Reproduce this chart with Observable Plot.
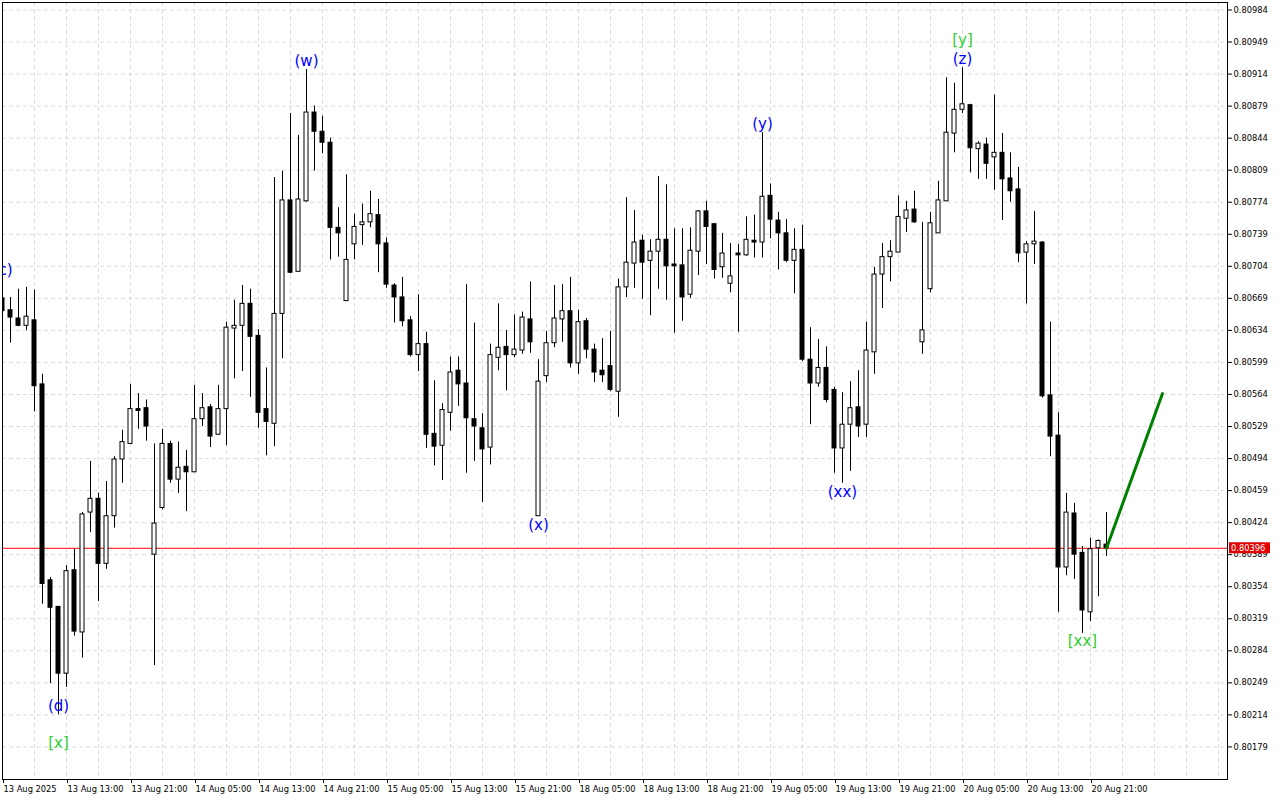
<!DOCTYPE html>
<html><head><meta charset="utf-8">
<script src="https://cdn.jsdelivr.net/npm/d3@7"></script>
<script src="https://cdn.jsdelivr.net/npm/@observablehq/plot@0.6"></script>
<style>html,body{margin:0;padding:0;background:#fff;overflow:hidden}#chart svg{display:block}</style>
</head><body><div id="chart"></div>
<script>
// Hourly bars, index 0 = 13 Aug 05:00 (weekend skipped)
const open = [
0.80669,0.80656,0.80647,0.80639,0.80645,0.80575,0.80361,0.80332,0.80259,0.80372,
0.80304,0.80435,0.80450,0.80379,0.80431,0.80493,0.80510,0.80548,0.80549,0.80389,
0.80440,0.80510,0.80471,0.80485,0.80479,0.80537,0.80550,0.80520,0.80548,0.80636,
0.80639,0.80663,0.80628,0.80548,0.80532,0.80652,0.80776,0.80698,0.80775,0.80872,
0.80851,0.80839,0.80746,0.80666,0.80728,0.80749,0.80752,0.80760,0.80729,0.80683,
0.80670,0.80645,0.80607,0.80619,0.80521,0.80508,0.80544,0.80590,0.80576,0.80537,
0.80527,0.80506,0.80604,0.80616,0.80607,0.80612,0.80646,0.80431,0.80584,0.80620,
0.80646,0.80655,0.80598,0.80644,0.80613,0.80590,0.80595,0.80567,0.80681,0.80707,
0.80732,0.80710,0.80720,0.80733,0.80706,0.80705,0.80673,0.80720,0.80764,0.80750,
0.80703,0.80685,0.80718,0.80716,0.80732,0.80730,0.80781,0.80754,0.80740,0.80710,
0.80722,0.80602,0.80576,0.80593,0.80569,0.80505,0.80531,0.80550,0.80531,0.80610,
0.80695,0.80714,0.80719,0.80756,0.80766,0.80621,0.80679,0.80740,0.80775,0.80849,
0.80875,0.80880,0.80832,0.80837,0.80823,0.80828,0.80800,0.80788,0.80719,0.80728,
0.80730,0.80563,0.80519,0.80375,0.80434,0.80391,0.80326,0.80396,0.80400];
const high = [
0.80675,0.80670,0.80679,0.80681,0.80678,0.80586,0.80364,0.80332,0.80377,0.80395,
0.80435,0.80491,0.80456,0.80469,0.80496,0.80525,0.80575,0.80565,0.80558,0.80510,
0.80526,0.80513,0.80512,0.80503,0.80574,0.80565,0.80553,0.80574,0.80643,0.80667,
0.80683,0.80679,0.80635,0.80593,0.80801,0.80808,0.80871,0.80847,0.80919,0.80879,
0.80868,0.80844,0.80768,0.80804,0.80761,0.80772,0.80786,0.80777,0.80735,0.80685,
0.80692,0.80649,0.80673,0.80632,0.80579,0.80554,0.80605,0.80605,0.80684,0.80642,
0.80543,0.80619,0.80663,0.80634,0.80651,0.80654,0.80687,0.80602,0.80633,0.80683,
0.80684,0.80692,0.80656,0.80647,0.80619,0.80625,0.80633,0.80690,0.80779,0.80765,
0.80738,0.80733,0.80802,0.80793,0.80745,0.80745,0.80746,0.80765,0.80775,0.80750,
0.80740,0.80729,0.80728,0.80758,0.80760,0.80850,0.80794,0.80763,0.80755,0.80745,
0.80749,0.80637,0.80624,0.80616,0.80572,0.80566,0.80578,0.80590,0.80643,0.80703,
0.80729,0.80732,0.80781,0.80775,0.80786,0.80752,0.80763,0.80797,0.80910,0.80904,
0.80921,0.80881,0.80840,0.80844,0.80891,0.80849,0.80828,0.80812,0.80731,0.80764,
0.80731,0.80643,0.80544,0.80456,0.80445,0.80398,0.80407,0.80405,0.80435];
const low = [
0.80647,0.80620,0.80638,0.80634,0.80545,0.80335,0.80248,0.80214,0.80244,0.80300,
0.80276,0.80413,0.80338,0.80373,0.80418,0.80467,0.80510,0.80526,0.80513,0.80268,
0.80438,0.80467,0.80456,0.80436,0.80479,0.80529,0.80506,0.80520,0.80508,0.80581,
0.80589,0.80561,0.80527,0.80497,0.80507,0.80603,0.80696,0.80698,0.80774,0.80808,
0.80827,0.80711,0.80714,0.80666,0.80711,0.80727,0.80746,0.80697,0.80680,0.80642,
0.80638,0.80605,0.80589,0.80505,0.80486,0.80470,0.80524,0.80551,0.80478,0.80491,
0.80446,0.80487,0.80590,0.80568,0.80604,0.80608,0.80609,0.80431,0.80577,0.80615,
0.80621,0.80593,0.80586,0.80603,0.80577,0.80577,0.80567,0.80539,0.80670,0.80680,
0.80668,0.80650,0.80679,0.80667,0.80631,0.80644,0.80669,0.80694,0.80706,0.80690,
0.80691,0.80675,0.80632,0.80715,0.80713,0.80713,0.80734,0.80700,0.80708,0.80674,
0.80600,0.80531,0.80572,0.80555,0.80478,0.80467,0.80480,0.80517,0.80517,0.80586,
0.80658,0.80687,0.80719,0.80741,0.80751,0.80608,0.80675,0.80740,0.80775,0.80828,
0.80871,0.80806,0.80799,0.80799,0.80787,0.80754,0.80774,0.80708,0.80663,0.80706,
0.80560,0.80496,0.80326,0.80366,0.80362,0.80303,0.80316,0.80343,0.80387];
const close = [
0.80655,0.80648,0.80639,0.80649,0.80573,0.80357,0.80331,0.80259,0.80371,0.80305,
0.80433,0.80450,0.80379,0.80431,0.80493,0.80512,0.80548,0.80546,0.80529,0.80423,
0.80510,0.80471,0.80484,0.80479,0.80537,0.80549,0.80518,0.80548,0.80637,0.80639,
0.80663,0.80627,0.80544,0.80534,0.80652,0.80776,0.80697,0.80777,0.80872,0.80851,
0.80839,0.80746,0.80740,0.80711,0.80747,0.80752,0.80761,0.80728,0.80684,0.80670,
0.80644,0.80607,0.80619,0.80520,0.80507,0.80547,0.80588,0.80575,0.80538,0.80529,
0.80504,0.80607,0.80615,0.80607,0.80613,0.80648,0.80621,0.80578,0.80620,0.80647,
0.80655,0.80598,0.80643,0.80613,0.80588,0.80585,0.80569,0.80681,0.80708,0.80730,
0.80708,0.80720,0.80733,0.80704,0.80704,0.80670,0.80721,0.80764,0.80747,0.80700,
0.80718,0.80693,0.80716,0.80733,0.80730,0.80780,0.80755,0.80740,0.80710,0.80722,
0.80602,0.80576,0.80593,0.80558,0.80505,0.80531,0.80549,0.80529,0.80612,0.80695,
0.80714,0.80720,0.80758,0.80765,0.80752,0.80634,0.80751,0.80776,0.80850,0.80875,
0.80881,0.80833,0.80838,0.80816,0.80828,0.80799,0.80786,0.80718,0.80728,0.80731,
0.80562,0.80518,0.80375,0.80435,0.80389,0.80328,0.80395,0.80404,0.80396];

const timeTickBars = [0,8,16,24,32,40,48,56,64,72,80,88,96,104,112,120,128,136];
const timeLabels = ["13 Aug 2025","13 Aug 13:00","13 Aug 21:00","14 Aug 05:00","14 Aug 13:00","14 Aug 21:00",
  "15 Aug 05:00","15 Aug 13:00","15 Aug 21:00","18 Aug 05:00","18 Aug 13:00","18 Aug 21:00",
  "19 Aug 05:00","19 Aug 13:00","19 Aug 21:00","20 Aug 05:00","20 Aug 13:00","20 Aug 21:00"];
const priceTicks = [0.80179,0.80214,0.80249,0.80284,0.80319,0.80354,0.80389,0.80424,0.80459,0.80494,
  0.80529,0.80564,0.80599,0.80634,0.80669,0.80704,0.80739,0.80774,0.80809,0.80844,0.80879,0.80914,0.80949,0.80984];

const waveText  = ["(c)","(d)","[x]","(w)","(x)","(y)","(xx)","[y]","(z)","[xx]"];
const waveBar   = [0, 7, 7, 38, 67, 95, 105, 120, 120, 135];
const wavePrice = [0.80700,0.80224,0.80183,0.80928,0.80421,0.80859,0.80457,0.80951,0.80930,0.80294];
const waveColor = ["#0000ff","#0000ff","#32cd32","#0000ff","#0000ff","#0000ff","#0000ff","#32cd32","#0000ff","#32cd32"];

const currentPrice = 0.80396;
const forecastBars = [138, 145];
const forecastPrices = [0.80396, 0.80565];

const bars = open.map((o, i) => ({i, o, h: high[i], l: low[i], c: close[i], up: close[i] >= o}));
const labelByBar = new Map(timeTickBars.map((b, j) => [b, timeLabels[j]]));
const gridBars = d3.range(4, 153, 4);
const waves = waveText.map((t, j) => ({t, i: waveBar[j], p: wavePrice[j], col: waveColor[j]}));
const forecast = forecastBars.map((b, j) => ({i: b, p: forecastPrices[j]}));

const FONT = "'DejaVu Sans', sans-serif";
const chart = Plot.plot({
  width: 1280, height: 800,
  marginLeft: 2, marginRight: 53, marginTop: 2, marginBottom: 21,
  style: {fontFamily: FONT, fontSize: "8.3px", background: "#fff", color: "#000", overflow: "visible"},
  x: {type: "linear", domain: [0, 153.125], axis: null},
  y: {type: "linear", domain: [0.801434, 0.809922], axis: null},
  marks: [
    Plot.gridY(priceTicks, {stroke: "#dcdcdc", strokeOpacity: 1, strokeDasharray: "4,3"}),
    Plot.gridX(gridBars, {stroke: "#dcdcdc", strokeOpacity: 1, strokeDasharray: "4,3"}),
    Plot.ruleY([currentPrice], {stroke: "#ff0000", strokeWidth: 1}),
    Plot.ruleX(bars, {x: "i", y1: "l", y2: "h", stroke: "#000", strokeWidth: 1, clip: true}),
    Plot.rect(bars, {x1: d => d.i - 0.25, x2: d => d.i + 0.25, y1: "o", y2: "c",
      fill: d => d.up ? "#fff" : "#000", stroke: "#000", strokeWidth: 1, clip: true}),
    Plot.line(forecast, {x: "i", y: "p", stroke: "#008000", strokeWidth: 3}),
    Plot.text(waves, {x: "i", y: "p", text: "t", fill: "col", fontSize: 15, fontFamily: FONT,
      textAnchor: "middle", lineAnchor: "middle", clip: true}),
    Plot.frame({stroke: "#000"}),
    Plot.axisY(priceTicks, {anchor: "right", tickSize: 4, tickPadding: 2, label: null,
      tickFormat: d => d.toFixed(5), fontSize: 8.3}),
    Plot.axisX(timeTickBars, {anchor: "bottom", tickSize: 4, tickPadding: 3, label: null,
      tickFormat: d => labelByBar.get(d), textAnchor: "start", dx: 1, fontSize: 8.3})
  ]
});

// current price tag on the right axis
const py = chart.scale("y").apply(currentPrice);
const tag = d3.select(chart).append("g").attr("text-anchor", "start");
tag.append("rect").attr("x", 1229).attr("y", py - 5.5).attr("width", 41).attr("height", 11).attr("fill", "#e00000");
tag.append("text").attr("x", 1231).attr("y", py + 3.2).attr("fill", "#fff").attr("text-anchor", "start")
  .attr("font-family", FONT).attr("font-size", "8.3px").text(currentPrice.toFixed(5));

document.getElementById("chart").appendChild(chart);
</script>
</body></html>
